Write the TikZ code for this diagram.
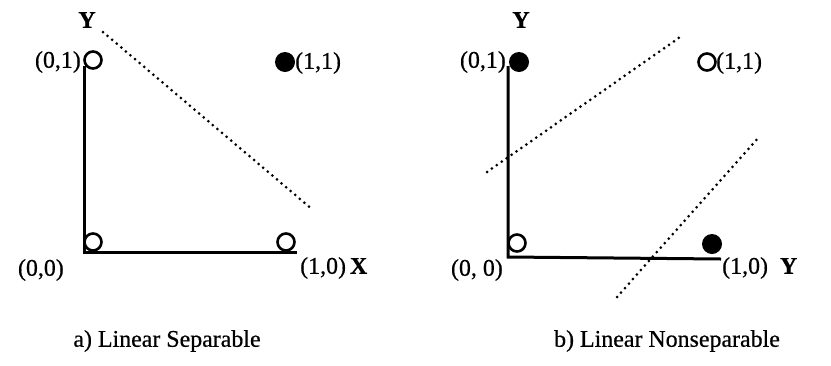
\documentclass[tikz,border=0pt]{standalone}
\usepackage{fontspec}
\setmainfont[FakeBold=0.6]{Liberation Serif}
\begin{document}
\begin{tikzpicture}[x=1bp,y=-1bp,
  lbl/.style={inner sep=0pt,font=\fontsize{24}{26}\selectfont},
  bigbold/.style={inner sep=0pt,font=\fontsize{24}{26}\selectfont\bfseries},
  opencirc/.style={circle,draw,line width=2.6bp,minimum size=17bp,inner sep=0pt,fill=white},
  fullcirc/.style={circle,fill=black,minimum size=20bp,inner sep=0pt},
  axis/.style={line width=3bp},
  sep/.style={line width=3bp,line cap=round,dash pattern=on 0pt off 6bp}]
\useasboundingbox (0,0) rectangle (831,365);
% ---------- left panel ----------
\coordinate (Ltop) at (84,66);
\coordinate (Lorig) at (84,252);
\coordinate (Lend) at (297,252);
\draw[axis] (Ltop) -- (Lorig) -- (Lend);
\node[opencirc] (L01) at (93,60) {};
\node[fullcirc] (L11) at (285,62) {};
\node[opencirc] (L00) at (93,242) {};
\node[opencirc] (L10) at (286,242) {};
\node[bigbold] (LY) at (87,20) {Y};
\node[lbl,anchor=east] (tL01) at (81,62) {(0,1)};
\node[lbl,anchor=west] (tL11) at (295,63) {(1,1)};
\node[lbl,anchor=east] (tL00) at (64,270) {(0,0)};
\node[lbl,anchor=west] (tL10) at (300,268) {(1,0)\,\textbf{X}};
\coordinate (Ls1) at (103,32);
\coordinate (Ls2) at (313,210);
\draw[sep] (Ls1) -- (Ls2);
\node[lbl] (capA) at (167,341) {a) Linear Separable};
% ---------- right panel ----------
\coordinate (Rtop) at (508,66);
\coordinate (Rorig) at (508,257);
\coordinate (Rend) at (721,259);
\draw[axis] (Rtop) -- (Rorig) -- (Rend);
\node[fullcirc] (R01) at (519,62) {};
\node[opencirc] (R11) at (707,62) {};
\node[opencirc] (R00) at (517,243) {};
\node[fullcirc] (R10) at (712,244) {};
\node[bigbold] (RY) at (521,20) {Y};
\node[lbl,anchor=east] (tR01) at (506,62) {(0,1)};
\node[lbl,anchor=west] (tR11) at (716,63) {(1,1)};
\node[lbl,anchor=east] (tR00) at (503,270) {(0, 0)};
\node[lbl,anchor=west] (tR10) at (722,268) {(1,0)\enspace\textbf{Y}};
\coordinate (Ra1) at (487,172);
\coordinate (Ra2) at (683,35);
\coordinate (Rb1) at (617,297);
\coordinate (Rb2) at (759,137);
\draw[sep] (Ra1) -- (Ra2);
\draw[sep] (Rb1) -- (Rb2);
\node[lbl] (capB) at (667,341) {b) Linear Nonseparable};
\end{tikzpicture}
\end{document}
